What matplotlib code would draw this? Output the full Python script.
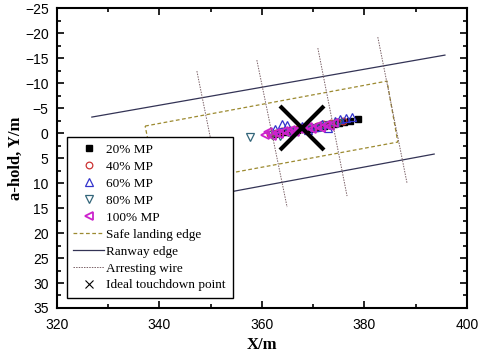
import matplotlib
matplotlib.use("Agg")
import matplotlib.pyplot as plt
from matplotlib.ticker import MultipleLocator

# touchdown points for each motion-prediction level (x, y in m)
mp20_x = [362.3, 363.5, 364.6, 365.8, 366.9, 368.0, 369.2, 370.3, 371.2, 372.1, 373.0, 374.0, 375.0, 376.1, 377.2, 378.7]
mp20_y = [0.2, 0.0, -0.2, -0.4, -0.6, -0.8, -0.9, -1.1, -1.3, -1.5, -1.6, -1.8, -2.0, -2.2, -2.5, -2.8]

mp40_x = [361.5, 362.8, 364.0, 365.5, 366.8, 368.2, 369.5, 370.8, 372.0, 373.4, 374.6, 375.8]
mp40_y = [0.1, -0.1, -0.4, -0.6, -0.9, -1.0, -1.3, -1.5, -1.8, -2.0, -2.3, -2.5]

mp60_x = [362.6, 363.9, 364.9, 366.2, 367.8, 369.0, 370.6, 371.8, 372.9, 374.2, 375.2, 376.4, 377.5]
mp60_y = [-0.9, -1.8, -1.6, -0.5, -1.5, -0.6, -1.2, -1.9, -1.0, -2.4, -2.8, -3.0, -3.2]

mp80_x = [357.7, 362.0, 363.6, 365.1, 366.7, 368.4, 370.0, 371.5, 373.1, 374.8]
mp80_y = [0.8, 0.3, 0.6, -0.3, -0.4, -0.7, -1.0, -1.2, -1.6, -2.1]

mp100_x = [360.6, 361.2, 361.9, 362.7, 363.4, 364.2, 365.0, 365.7, 366.5, 367.3, 368.1, 369.0, 369.8, 370.7, 371.6, 372.4, 373.2, 374.0]
mp100_y = [0.3, -0.2, 0.6, -0.1, 0.2, -0.5, -0.1, -0.6, -0.3, -0.9, -0.6, -1.2, -0.9, -1.4, -1.1, -1.7, -1.5, -2.0]

# geometry
safe_x = [337.2, 384.4, 386.5, 339.6, 337.2]
safe_y = [-1.4, -10.4, 1.8, 10.7, -1.4]
runway_up_x = [326.8, 395.7]
runway_up_y = [-3.2, -15.6]
runway_lo_x = [330.0, 393.6]
runway_lo_y = [16.3, 4.2]
wire_top_x = [347.3, 359.0, 370.9, 382.6]
wire_top_y = [-12.4, -14.6, -17.0, -19.2]
wire_bot_x = [353.1, 364.9, 376.6, 388.3]
wire_bot_y = [17.0, 14.8, 12.6, 10.0]
ideal_x = [367.8]
ideal_y = [-1.0]

serif = "Liberation Serif"
sans = "Liberation Sans"

fig = plt.figure(figsize=(4.9, 3.53), dpi=100)
ax = fig.add_axes([0.1163, 0.1275, 0.8367, 0.8495])

safe_c = "#9c8a30"
run_c = "#333355"
wire_c = "#7a6066"

ms = 4.8
ax.plot(mp20_x, mp20_y, "s", color="black", ms=ms, ls="none", label="20% MP")
ax.plot(mp40_x, mp40_y, "o", mfc="none", mec="#cc3333", ms=ms, mew=0.9, ls="none", label="40% MP")
ax.plot(mp60_x, mp60_y, "^", mfc="none", mec="#3333cc", ms=ms + 1, mew=0.9, ls="none", label="60% MP")
ax.plot(mp80_x, mp80_y, "v", mfc="none", mec="#33667a", ms=ms + 1, mew=0.9, ls="none", label="80% MP")
ax.plot(mp100_x, mp100_y, "<", mfc="none", mec="#cc22cc", ms=ms + 1, mew=1.3, ls="none", label="100% MP")

ax.plot(safe_x, safe_y, color=safe_c, lw=0.9, ls=(0, (3, 2)), label="Safe landing edge")
ax.plot(runway_up_x, runway_up_y, color=run_c, lw=0.9, label="Ranway edge")
ax.plot(runway_lo_x, runway_lo_y, color=run_c, lw=0.9)
for i in range(len(wire_top_x)):
    ax.plot([wire_top_x[i], wire_bot_x[i]], [wire_top_y[i], wire_bot_y[i]],
            color=wire_c, lw=0.7, ls=(0, (1.5, 1.2)),
            label="Arresting wire" if i == 0 else None)

ax.plot(ideal_x, ideal_y, "x", color="black", ms=32, mew=3, ls="none", zorder=5)
# small handle for the legend
ax.plot([], [], "x", color="black", ms=6, mew=0.8, ls="none", label="Ideal touchdown point")

ax.set_xlim(320, 400)
ax.set_ylim(35, -25)
ax.xaxis.set_major_locator(MultipleLocator(20))
ax.xaxis.set_minor_locator(MultipleLocator(10))
ax.yaxis.set_major_locator(MultipleLocator(5))
ax.yaxis.set_minor_locator(MultipleLocator(2.5))
ax.tick_params(which="both", direction="in", top=True, right=True, width=1.2)
ax.tick_params(which="major", length=5, labelsize=10)
ax.tick_params(which="minor", length=3)
ax.tick_params(axis="x", which="major", pad=7)
ax.tick_params(axis="y", which="major", pad=6)
for lab in ax.get_xticklabels() + ax.get_yticklabels():
    lab.set_family(sans)
for sp in ax.spines.values():
    sp.set_linewidth(1.5)

ax.set_xlabel("X/m", family=serif, fontsize=12, fontweight="bold", labelpad=4)
ax.set_ylabel("a-hold, Y/m", family=serif, fontsize=12, fontweight="bold", labelpad=1)

leg = ax.legend(loc="lower left", bbox_to_anchor=(0.024, 0.033), prop={"family": serif, "size": 9.5},
                fancybox=False, edgecolor="black", framealpha=1, handlelength=2.3,
                labelspacing=0.36, borderpad=0.5, handletextpad=0.2, borderaxespad=0)
leg.get_frame().set_linewidth(1.0)

fig.savefig("out.png", dpi=100)
